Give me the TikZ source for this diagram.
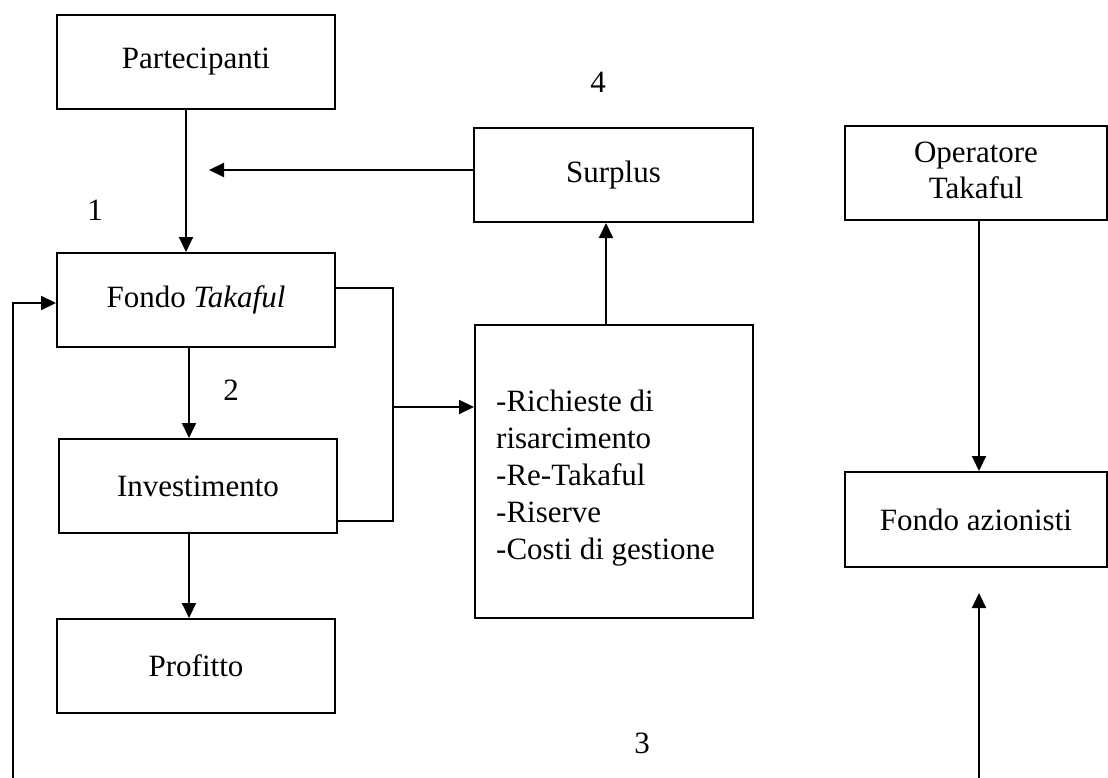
\documentclass[tikz,border=0pt]{standalone}
\usepackage{fontspec}
\setmainfont{Liberation Serif}
\usetikzlibrary{arrows.meta}
\begin{document}
\begin{tikzpicture}[x=1pt,y=-1pt,
  box/.style={draw,line width=2pt,inner sep=0pt,minimum width=278pt,minimum height=94pt,font=\fontsize{31}{37}\selectfont},
  lab/.style={inner sep=0pt,font=\fontsize{31}{37}\selectfont},
  conn/.style={line width=2pt},
  arr/.style={line width=2pt,-{Triangle[length=15pt,width=14pt]}}]
\useasboundingbox (0,0) rectangle (1108,778);
% boxes
\node[box] (part) at (196,62) {Partecipanti};
\node[box] (fondo) at (196,300) {Fondo \textit{Takaful}};
\node[box] (inv) at (198,486) {Investimento};
\node[box] (prof) at (196,666) {Profitto};
\node[box,minimum width=279pt] (surplus) at (613.5,175) {Surplus};
\node[box,minimum height=293pt] (rich) at (614,471.5) {};
\node[lab,anchor=west,align=left] (richtext) at (496,478) {-Richieste di\\risarcimento\\-Re-Takaful\\-Riserve\\-Costi di gestione};
\node[box,minimum width=262pt] (oper) at (976,173) {\begin{tabular}{@{}c@{}}Operatore\\[-1pt]Takaful\end{tabular}\hspace{28pt}};
\node[box,minimum width=262pt,minimum height=95pt] (azion) at (976,519.5) {Fondo azionisti};
% numbers
\node[lab] (n1) at (95,210) {1};
\node[lab] (n2) at (231,390) {2};
\node[lab] (n3) at (642,743) {3};
\node[lab] (n4) at (598,82) {4};
% helper coordinates
\coordinate (a1) at (186,0);
\coordinate (a2) at (189,0);
\coordinate (sy) at (0,170);
\coordinate (stip) at (209,170);
\coordinate (br1) at (393,288);
\coordinate (br2) at (393,521);
\coordinate (br3) at (393,407);
\coordinate (ru) at (606,0);
\coordinate (oa) at (979,0);
\coordinate (obot) at (979,778);
\coordinate (otip) at (979,593);
\coordinate (lb) at (13,778);
\coordinate (ly) at (0,303);
% connectors
\draw[arr] (part.south -| a1) -- (fondo.north -| a1);
\draw[arr] (surplus.west |- sy) -- (stip);
\draw[arr] (fondo.south -| a2) -- (inv.north -| a2);
\draw[arr] (inv.south -| a2) -- (prof.north -| a2);
\draw[conn] (fondo.east |- br1) -- (br1) -- (br2) -- (inv.east |- br2);
\draw[arr] (br3) -- (rich.west |- br3);
\draw[arr] (rich.north -| ru) -- (surplus.south -| ru);
\draw[arr] (oper.south -| oa) -- (azion.north -| oa);
\draw[arr] (obot) -- (otip);
\draw[arr] (lb) |- (fondo.west |- ly);
\end{tikzpicture}
\end{document}
